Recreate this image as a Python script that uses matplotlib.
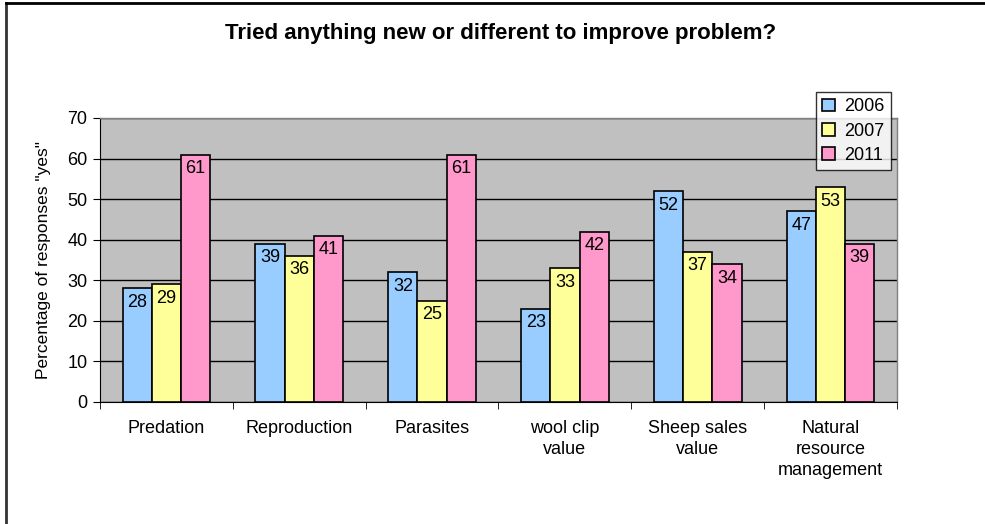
import matplotlib
matplotlib.use("Agg")
import matplotlib.pyplot as plt
import numpy as np
from matplotlib.lines import Line2D

categories = ["Predation", "Reproduction", "Parasites", "wool clip\nvalue",
              "Sheep sales\nvalue", "Natural\nresource\nmanagement"]
series_names = ["2006", "2007", "2011"]
v2006 = [28, 39, 32, 23, 52, 47]
v2007 = [29, 36, 25, 33, 37, 53]
v2011 = [61, 41, 61, 42, 34, 39]
yticks = [0, 10, 20, 30, 40, 50, 60, 70]

colors = ["#99CCFF", "#FFFF99", "#FF99CC"]
plt.rcParams['font.family'] = ['Liberation Sans', 'DejaVu Sans']

fig = plt.figure(figsize=(9.85, 5.24), dpi=100)
ax = fig.add_axes([100/985, 1-402/524, 797/985, 284/524])
ax.set_facecolor("#C0C0C0")

x = np.arange(len(categories))
w = 0.22
for i, (vals, c, name) in enumerate(zip([v2006, v2007, v2011], colors, series_names)):
    pos = x + (i - 1) * w
    bars = ax.bar(pos, vals, width=w, color=c, edgecolor="black", linewidth=1.2,
                  label=name, zorder=3)
    for b, v in zip(bars, vals):
        ax.annotate(str(v), (b.get_x() + b.get_width()/2, v), xytext=(0, -4),
                    textcoords="offset points", ha="center", va="top",
                    fontsize=13, zorder=4)

ax.set_xlim(-0.5, len(categories) - 0.5)
ax.set_ylim(0, 70)
ax.set_yticks(yticks)
ax.set_yticklabels([str(t) for t in yticks], fontsize=13)
ax.yaxis.grid(True, color="black", linewidth=1.0, zorder=1)
ax.set_axisbelow(True)

ax.set_xticks(x)
ax.set_xticklabels(categories, fontsize=13, linespacing=1.32)
ax.tick_params(axis="x", length=0, pad=13)
ax.set_xticks(np.arange(len(categories) + 1) - 0.5, minor=True)
ax.tick_params(axis="x", which="minor", length=5, direction="out", color="black")
ax.tick_params(axis="y", length=5, direction="out", color="black", pad=4)

for s in ["top", "right"]:
    ax.spines[s].set_color("#808080")
    ax.spines[s].set_linewidth(1.0)
ax.spines["left"].set_color("black")
ax.spines["bottom"].set_color("black")

ax.set_ylabel('Percentage of responses "yes"', fontsize=12.5, labelpad=12)

fig.text(501/985, 1-33/524, "Tried anything new or different to improve problem?",
         ha="center", va="center", fontsize=16, fontweight="bold")

leg = ax.legend(loc="upper left", bbox_to_anchor=(816/985, 1-92/524),
                bbox_transform=fig.transFigure, frameon=True, fancybox=False,
                fontsize=13, handlelength=0.7, handleheight=0.7, handletextpad=0.5,
                borderpad=0.35, labelspacing=0.4, borderaxespad=0)
leg.get_frame().set_edgecolor("black")
leg.get_frame().set_linewidth(1.0)
leg.set_zorder(10)

fig.add_artist(Line2D([6/985, 6/985], [0, 1-3/524], transform=fig.transFigure,
                      color="#333333", linewidth=2))
fig.add_artist(Line2D([6/985, 1], [1-3/524, 1-3/524], transform=fig.transFigure,
                      color="black", linewidth=2))

fig.savefig("out.png", dpi=100)
